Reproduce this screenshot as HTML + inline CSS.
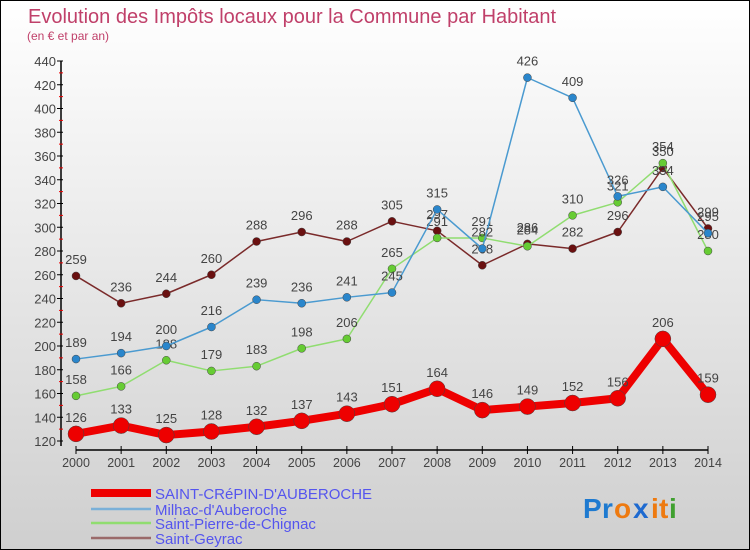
<!DOCTYPE html>
<html><head><meta charset="utf-8"><style>
body{margin:0}
#c{width:750px;height:550px;position:relative;box-sizing:border-box;border:1px solid #000;background:linear-gradient(#fff,#cfcfcf);font-family:"Liberation Sans",sans-serif;overflow:hidden}
text{font-family:"Liberation Sans",sans-serif}
</style></head><body>
<div id="c">
<svg id="s" width="750" height="550">
<text x="27" y="22" font-size="20" fill="#c0406a">Evolution des Impôts locaux pour la Commune par Habitant</text>
<text x="26" y="39" font-size="12" fill="#c0406a">(en € et par an)</text>
<g id="axes"></g><g id="series"></g><g id="legend"></g>
<g font-size="28" font-weight="bold">
<text x="582" y="517" fill="#1e7ad0">P</text><text x="601" y="517" fill="#1e7ad0">r</text><text x="613" y="517" fill="#ee7a10">o</text><text x="632" y="517" fill="#1e6ad0">x</text><text x="650" y="517" fill="#ee7a10">i</text><text x="658" y="517" fill="#ee7a10">t</text><text x="668" y="517" fill="#40a030">i</text>
</g>
</svg></div>
<script>
const years=[2000,2001,2002,2003,2004,2005,2006,2007,2008,2009,2010,2011,2012,2013,2014];
const yTicks=[120,140,160,180,200,220,240,260,280,300,320,340,360,380,400,420,440];
const crepin=[126,133,125,128,132,137,143,151,164,146,149,152,156,206,159];
const milhac=[189,194,200,216,239,236,241,245,315,282,426,409,326,334,295];
const pierre=[158,166,188,179,183,198,206,265,291,291,284,310,321,354,280];
const geyrac=[259,236,244,260,288,296,288,305,297,268,286,282,296,350,299];
const names=["SAINT-CRéPIN-D'AUBEROCHE","Milhac-d'Auberoche","Saint-Pierre-de-Chignac","Saint-Geyrac"];
const NS="http://www.w3.org/2000/svg";
const X=i=>75+i*(632/14), Y=v=>440-(v-120)*1.1875;
function mk(t,a,p){const e=document.createElementNS(NS,t);for(const k in a)e.setAttribute(k,a[k]);p.appendChild(e);return e;}
const ax=document.getElementById('axes');
let l=mk('line',{x1:60,y1:60,x2:60,y2:445,stroke:'#000','stroke-width':1.5},ax);


yTicks.forEach(v=>{
  mk('line',{x1:56,x2:62,y1:Y(v),y2:Y(v),stroke:'#000'},ax);
  if(v<440){mk('line',{x1:58,x2:62,y1:Y(v+10),y2:Y(v+10),stroke:'#e00'},ax);}
  const t=mk('text',{x:55,y:Y(v)+5,'text-anchor':'end','font-size':13,fill:'#444'},ax);
  t.textContent=v;
  
  
});
l=mk('line',{x1:75,y1:449,x2:707,y2:449,stroke:'#000','stroke-width':1.5},ax);


years.forEach((y,i)=>{
  mk('line',{x1:X(i),x2:X(i),y1:445,y2:453,stroke:'#000'},ax);
  const t=mk('text',{x:X(i),y:466,'text-anchor':'middle','font-size':12.5,fill:'#444'},ax);
  t.textContent=y;
  
  
});
const sg=document.getElementById('series');
const defs=[[geyrac,'#7a2a2a','#6a1010',1.5,4,'saint-geyrac'],[pierre,'#90dd70','#66cc33',1.5,4,'saint-pierre-de-chignac'],[milhac,'#4a9ad0','#2a86cc',1.5,4,'milhac-d-auberoche'],[crepin,'#ee0000','#ee0000',8,8,'saint-crepin-d-auberoche']];
defs.forEach(([d,lc,pc,w,r,n])=>{
  const g=mk('g',{},sg);
  
  
  const pl=mk('polyline',{points:d.map((v,i)=>X(i)+','+Y(v)).join(' '),fill:'none',stroke:lc,'stroke-width':w,'stroke-linejoin':'round'},g);
  
  
  d.forEach((v,i)=>{
    const c=mk('circle',{cx:X(i),cy:Y(v),r:r,fill:pc,stroke:'#444','stroke-width':0.5},g);
    
    
    const t=mk('text',{x:X(i),y:Y(v)-12,'text-anchor':'middle','font-size':13,fill:'#444'},g);
    t.textContent=v;
    
    
  });
});
const lg=document.getElementById('legend');
const lcols=['#ee0000','#7ab0d8','#90dd70','#9a6a6a'],lw=[8,2.5,2.5,2.5],ly=[492,508,522,537];
names.forEach((n,i)=>{
  const g=mk('g',{},lg);
  
  
  mk('line',{x1:90,x2:150,y1:ly[i],y2:ly[i],stroke:lcols[i],'stroke-width':lw[i]},g);
  const t=mk('text',{x:154,y:ly[i]+6,'font-size':15,fill:'#5555ee'},g);
  t.textContent=n;
});
</script>
</body></html>
